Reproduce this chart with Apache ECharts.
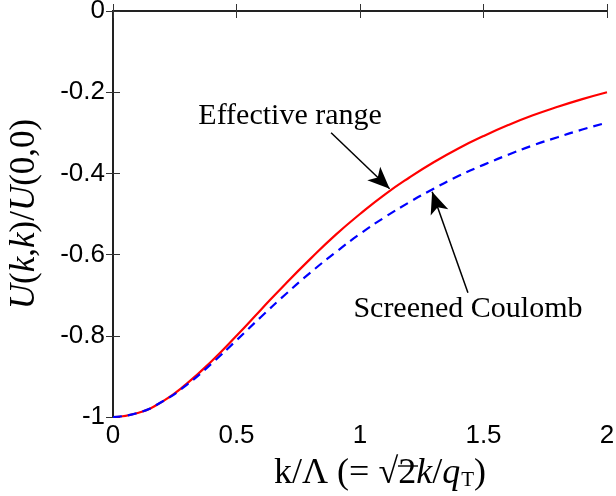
<!DOCTYPE html>
<html>
<head>
<meta charset="utf-8">
<script src="https://cdn.jsdelivr.net/npm/echarts@6/dist/echarts.min.js"></script>
<style>
  html, body { margin: 0; padding: 0; background: #fff; }
</style>
</head>
<body>
<div id="main" style="width: 616px; height: 496px;"></div>
<script>
// x = k/Lambda
var kValues = [0, 0.1, 0.2, 0.3, 0.4, 0.5, 0.6, 0.7, 0.8, 0.9, 1.0,
  1.1, 1.2, 1.3, 1.4, 1.5, 1.6, 1.7, 1.8, 1.9, 2.0];
// Effective range (red solid)
var effectiveRange = [-1, -0.990, -0.962, -0.917, -0.862, -0.800, -0.735, -0.671, -0.610, -0.552, -0.500,
  -0.452, -0.410, -0.372, -0.338, -0.308, -0.281, -0.257, -0.236, -0.217, -0.200];
// Screened Coulomb (blue dashed)
var screenedCoulomb = [-1, -0.990, -0.962, -0.920, -0.868, -0.811, -0.753, -0.697, -0.644, -0.595, -0.549,
  -0.508, -0.471, -0.437, -0.406, -0.379, -0.354, -0.331, -0.311, -0.292, -0.275];

var serif = "'Liberation Serif', 'DejaVu Serif', serif";
var sans = "'Liberation Sans', Arial, sans-serif";

function pairs(xs, ys) {
  return xs.map(function (x, i) { return [x, ys[i]]; });
}

var myChart = echarts.init(document.getElementById("main"));

var axisLine = { lineStyle: { color: "#222", width: 2 } };
var tickIn = { show: true, inside: true, length: 7, lineStyle: { color: "#333", width: 1 } };

var option = {
  animation: false,
  grid: { left: 113, right: 9, top: 11, bottom: 79, outerBoundsMode: "none", containLabel: false },
  xAxis: [
    {
      type: "value", min: 0, max: 2, interval: 0.5,
      axisLine: axisLine, axisTick: tickIn, splitLine: { show: false },
      axisLabel: { color: "#000", fontFamily: sans, fontSize: 26, margin: 6 }
    },
    {
      type: "value", position: "top", min: 0, max: 2, interval: 0.5,
      axisLine: axisLine, axisTick: tickIn, splitLine: { show: false },
      axisLabel: { show: false }
    }
  ],
  yAxis: [
    {
      type: "value", min: -1, max: 0, interval: 0.2,
      axisLine: axisLine, axisTick: tickIn, splitLine: { show: false },
      axisLabel: { color: "#000", fontFamily: sans, fontSize: 26, margin: 8 },
      name: "{i|U}{n|(}{i|k}{n|,}{i|k}{n|)/}{i|U}{n|(0,0)}",
      nameLocation: "middle", nameRotate: 90, nameGap: 71,
      nameTextStyle: {
        rich: {
          i: { fontFamily: serif, fontSize: 35, fontStyle: "italic", color: "#000" },
          n: { fontFamily: serif, fontSize: 35, color: "#000" }
        }
      }
    },
    {
      type: "value", position: "right", min: -1, max: 0, interval: 0.2,
      axisLine: axisLine, axisTick: tickIn, splitLine: { show: false },
      axisLabel: { show: false }
    }
  ],
  graphic: [
    {
      type: "text", left: 274, top: 456,
      style: {
        text: "{n|k/Λ (= √}{n|2}{i|k}{n|/}{i|q}{s|T}{n|)}",
        rich: {
          n: { fontFamily: serif, fontSize: 36, fill: "#000", lineHeight: 40 },
          i: { fontFamily: serif, fontSize: 36, fontStyle: "italic", fill: "#000", lineHeight: 40 },
          s: { fontFamily: serif, fontSize: 21, fill: "#000", verticalAlign: "bottom", lineHeight: 40, padding: [0, 0, 3, 1] }
        }
      }
    },
    // overline of the square root
    { type: "line", shape: { x1: 398, y1: 466, x2: 418, y2: 466 }, style: { stroke: "#000", lineWidth: 1.4 } }
  ],
  series: [
    {
      name: "Effective range",
      type: "line",
      data: pairs(kValues, effectiveRange),
      smooth: true,
      symbol: "none",
      lineStyle: { color: "#ff0000", width: 2.2 },
      markLine: {
        silent: true,
        symbol: ["none", "arrow"],
        symbolSize: [14, 22],
        label: { show: false },
        lineStyle: { color: "#000", width: 1.5, type: "solid" },
        data: [
          [{ coord: [0.883, -0.300] }, { coord: [1.120, -0.438] }],
          [{ coord: [1.437, -0.694] }, { coord: [1.292, -0.445] }]
        ]
      },
      markPoint: {
        silent: true,
        symbol: "circle",
        symbolSize: 0,
        label: {
          show: true, position: "inside", color: "#000",
          fontFamily: serif, fontSize: 30,
          formatter: function (p) { return p.name; }
        },
        data: [
          { name: "Effective range", coord: [0.717, -0.259] },
          { name: "Screened Coulomb", coord: [1.437, -0.734] }
        ]
      }
    },
    {
      name: "Screened Coulomb",
      type: "line",
      data: pairs(kValues, screenedCoulomb),
      smooth: true,
      symbol: "none",
      lineStyle: { color: "#0000ff", width: 2.2, type: [9, 6] }
    }
  ]
};

myChart.setOption(option);
</script>
</body>
</html>
